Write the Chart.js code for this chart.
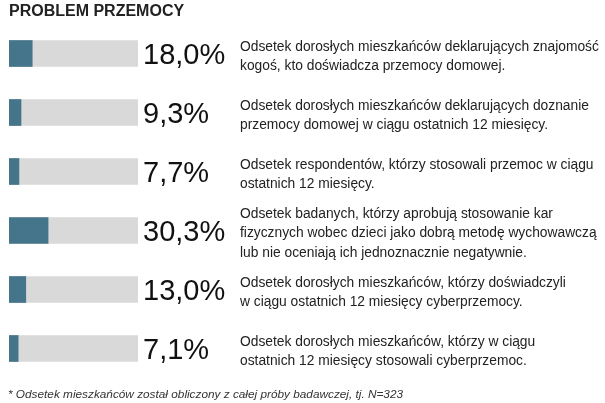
<!DOCTYPE html>
<html lang="pl">
<head>
<meta charset="utf-8">
<title>Problem przemocy</title>
<script src="https://cdn.jsdelivr.net/npm/chart.js@4"></script>
<style>
    html, body { margin: 0; padding: 0; background: #fff; }
    #wrap { width: 605px; height: 403px; position: relative; }
</style>
</head>
<body>
<div id="wrap"><canvas id="przemocChart" width="605" height="403"></canvas></div>
<script>
// Dane z wykresu
const categories = ['znajomosc', 'doznanie', 'stosowanie', 'kary', 'cyber_doznanie', 'cyber_stosowanie'];
const values = [18.0, 9.3, 7.7, 30.3, 13.0, 7.1];
const fullScale = [100, 100, 100, 100, 100, 100];
const descriptions = [
    ['Odsetek dorosłych mieszkańców deklarujących znajomość', 'kogoś, kto doświadcza przemocy domowej.'],
    ['Odsetek dorosłych mieszkańców deklarujących doznanie', 'przemocy domowej w ciągu ostatnich 12 miesięcy.'],
    ['Odsetek respondentów, którzy stosowali przemoc w ciągu', 'ostatnich 12 miesięcy.'],
    ['Odsetek badanych, którzy aprobują stosowanie kar', 'fizycznych wobec dzieci jako dobrą metodę wychowawczą', 'lub nie oceniają ich jednoznacznie negatywnie.'],
    ['Odsetek dorosłych mieszkańców, którzy doświadczyli', 'w ciągu ostatnich 12 miesięcy cyberprzemocy.'],
    ['Odsetek dorosłych mieszkańców, którzy w ciągu', 'ostatnich 12 miesięcy stosowali cyberprzemoc.']
];
const title = 'PROBLEM PRZEMOCY';
const footnote = '* Odsetek mieszkańców został obliczony z całej próby badawczej, tj. N=323';

function formatPct(v) {
    return v.toFixed(1).replace('.', ',') + '%';
}

// Etykiety i opisy obok słupków
const labelsPlugin = {
    id: 'labelsPlugin',
    afterDatasetsDraw(chart) {
        const c = chart.ctx;
        const area = chart.chartArea;
        const meta = chart.getDatasetMeta(1);
        c.save();
        c.textBaseline = 'middle';
        meta.data.forEach((bar, i) => {
            c.fillStyle = '#111';
            c.font = '29px "Liberation Sans", Arial, sans-serif';
            c.textAlign = 'left';
            c.fillText(formatPct(values[i]), area.right + 5, bar.y + 2);

            const lines = descriptions[i];
            const lh = 19.5;
            const startY = bar.y + 3 - (lines.length - 1) * lh / 2;
            c.fillStyle = '#222';
            c.font = '13.8px "Liberation Sans", Arial, sans-serif';
            lines.forEach((ln, j) => {
                c.fillText(ln, area.right + 102, startY + j * lh);
            });
        });

        c.fillStyle = '#222';
        c.font = 'bold 16px "Liberation Sans", Arial, sans-serif';
        c.fillText(title, 9, 12);

        c.fillStyle = '#333';
        c.font = 'italic 11.8px "Liberation Sans", Arial, sans-serif';
        c.fillText(footnote, 8, 395);
        c.restore();
    }
};

const ctx = document.getElementById('przemocChart').getContext('2d');
new Chart(ctx, {
    type: 'bar',
    data: {
        labels: categories,
        datasets: [{
            data: fullScale,
            backgroundColor: '#d9d9d9',
            barThickness: 26,
            grouped: false,
            order: 2
        }, {
            data: values,
            backgroundColor: '#44758a',
            barThickness: 26,
            grouped: false,
            order: 1
        }]
    },
    options: {
        indexAxis: 'y',
        responsive: false,
        animation: false,
        layout: {
            padding: { left: 9, right: 467, top: 24, bottom: 25 }
        },
        scales: {
            x: { display: false, min: 0, max: 100 },
            y: { display: false }
        },
        plugins: {
            legend: { display: false },
            tooltip: { enabled: false }
        }
    },
    plugins: [labelsPlugin]
});
</script>
</body>
</html>
